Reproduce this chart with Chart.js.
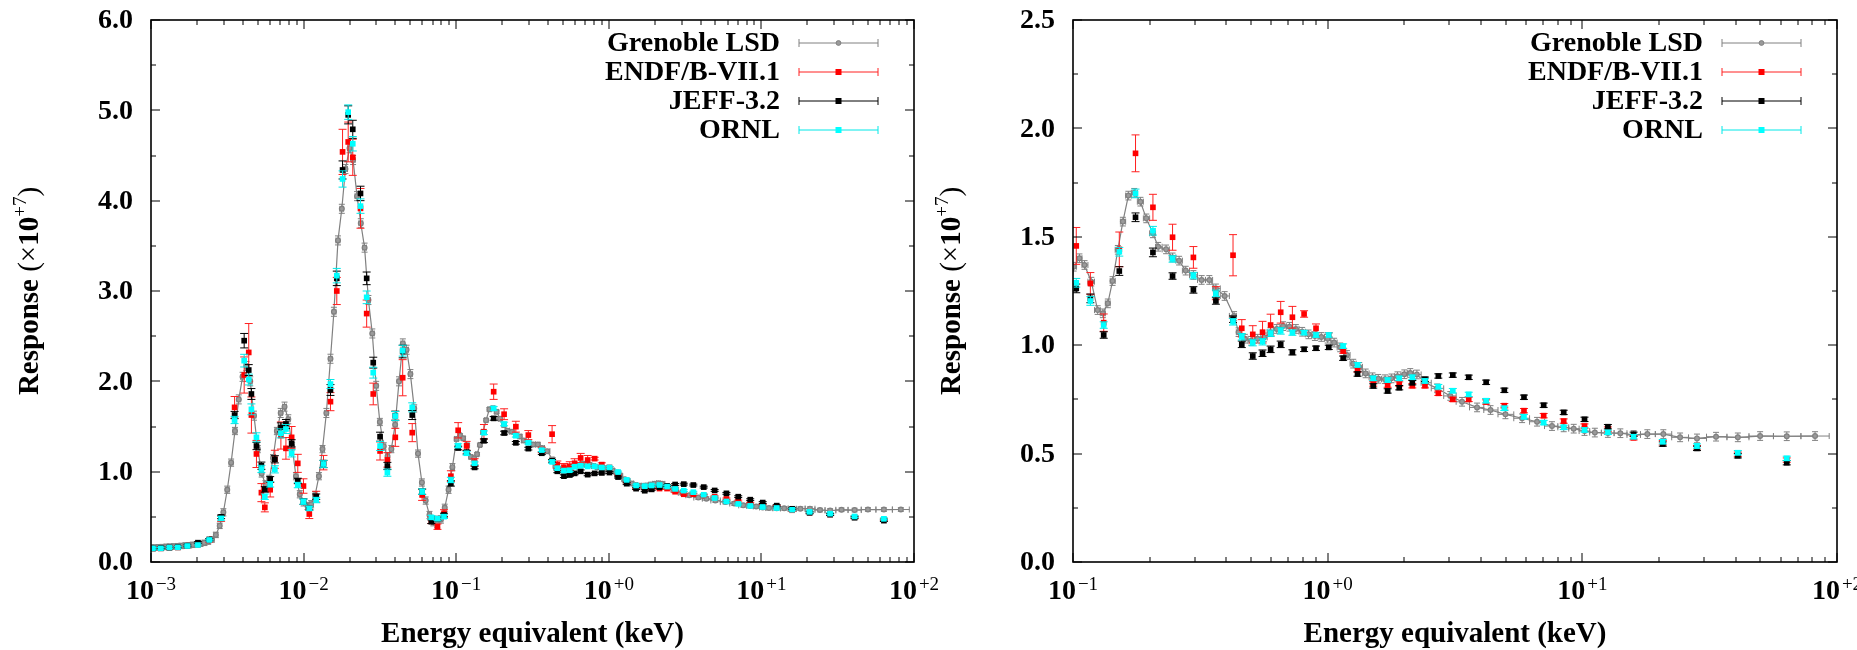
<!DOCTYPE html>
<html>
<head>
    <script src="https://cdn.jsdelivr.net/npm/chart.js@4.4.0/dist/chart.umd.min.js"></script>
    <style>
        body { margin: 0; background: #fff; width: 1857px; height: 650px; overflow: hidden; position: relative; }
        .box { position: absolute; top: 0; height: 650px; }
        #leftBox { left: 0; width: 990px; }
        #rightBox { left: 930px; width: 927px; }
    </style>
</head>
<body>
    <div class="box" id="leftBox"><canvas id="leftChart"></canvas></div>
    <div class="box" id="rightBox"><canvas id="rightChart"></canvas></div>

    <script>
        // ---- data (response in units of 1e7) ----
        var seriesNames = ['Grenoble LSD', 'ENDF/B-VII.1', 'JEFF-3.2', 'ORNL'];

        // energies (keV) of the calculated responses
        var modelEnergy = [0.00103, 0.00116, 0.00132, 0.00150, 0.00173, 0.00203, 0.00241, 0.00288, 0.00353, 0.00408,
            0.00437, 0.00455, 0.00491, 0.00529, 0.00557, 0.00604, 0.00648, 0.00710, 0.00766, 0.00835,
            0.00916, 0.00998, 0.0109, 0.0121, 0.0135, 0.0150, 0.0165, 0.0180, 0.0196, 0.0210,
            0.0236, 0.0259, 0.0286, 0.0317, 0.0354, 0.0399, 0.0446, 0.0515, 0.0598, 0.0687,
            0.0754, 0.0832, 0.0923, 0.103, 0.117, 0.132, 0.152, 0.176, 0.206, 0.246,
            0.297, 0.364, 0.425, 0.460, 0.508, 0.555, 0.597, 0.654, 0.727, 0.808,
            0.900, 1.01, 1.15, 1.31, 1.51, 1.72, 1.91, 2.15, 2.41, 2.72,
            3.10, 3.58, 4.19, 4.94, 5.90, 7.05, 8.45, 10.2, 12.6, 15.9,
            20.7, 28.2, 40.8, 63.5];

        var endfValues = [0.150, 0.150, 0.155, 0.160, 0.175, 0.190, 0.240, 0.480, 1.712, 2.070,
            2.320, 1.627, 1.196, 0.768, 0.605, 0.800, 1.137, 1.400, 1.258, 1.380,
            1.092, 0.841, 0.531, 0.723, 1.100, 1.775, 3.000, 4.540, 4.650, 4.480,
            3.915, 2.750, 1.860, 1.229, 1.130, 1.380, 2.040, 1.432, 0.742, 0.465,
            0.391, 0.539, 0.950, 1.458, 1.285, 1.104, 1.442, 1.885, 1.636, 1.498,
            1.405, 1.240, 1.415, 1.078, 1.050, 1.060, 1.093, 1.152, 1.129, 1.144,
            1.078, 1.047, 0.973, 0.886, 0.821, 0.816, 0.821, 0.813, 0.813, 0.778,
            0.750, 0.750, 0.738, 0.721, 0.698, 0.675, 0.650, 0.627, 0.613, 0.573,
            0.550, 0.527, 0.497, 0.470];
        var endfErrors = [0.01, 0.01, 0.01, 0.01, 0.01, 0.012, 0.02, 0.03, 0.12, 0.20,
            0.32, 0.20, 0.15, 0.10, 0.05, 0.08, 0.10, 0.15, 0.12, 0.12,
            0.10, 0.08, 0.05, 0.06, 0.08, 0.10, 0.15, 0.25, 0.22, 0.20,
            0.22, 0.15, 0.12, 0.10, 0.08, 0.10, 0.20, 0.10, 0.06, 0.04,
            0.03, 0.04, 0.06, 0.085, 0.05, 0.04, 0.08, 0.085, 0.06, 0.06,
            0.05, 0.03, 0.095, 0.04, 0.04, 0.05, 0.05, 0.05, 0.05, 0.015,
            0.02, 0.01, 0.01, 0.01, 0.01, 0.01, 0.01, 0.01, 0.01, 0.01,
            0.01, 0.01, 0.01, 0.01, 0.01, 0.01, 0.01, 0.01, 0.01, 0.01,
            0.01, 0.01, 0.01, 0.01];

        var jeffValues = [0.150, 0.155, 0.160, 0.165, 0.180, 0.214, 0.250, 0.500, 1.627, 2.450,
            2.125, 1.860, 1.284, 1.066, 0.804, 0.915, 1.137, 1.490, 1.528, 1.314,
            0.897, 0.668, 0.594, 0.723, 1.085, 1.904, 3.140, 4.340, 4.950, 4.790,
            4.080, 3.140, 2.207, 1.387, 1.063, 1.620, 2.330, 1.627, 0.779, 0.446,
            0.480, 0.520, 0.870, 1.262, 1.216, 1.047, 1.342, 1.590, 1.428, 1.319,
            1.255, 1.204, 1.120, 1.004, 0.950, 0.963, 0.981, 1.004, 0.967, 0.981,
            0.986, 0.990, 0.940, 0.867, 0.812, 0.789, 0.804, 0.827, 0.843, 0.858,
            0.862, 0.852, 0.829, 0.792, 0.760, 0.723, 0.690, 0.658, 0.624, 0.589,
            0.544, 0.524, 0.490, 0.458];
        var jeffErrors = [0.01, 0.01, 0.01, 0.01, 0.01, 0.01, 0.01, 0.02, 0.04, 0.08,
            0.06, 0.06, 0.04, 0.04, 0.03, 0.03, 0.04, 0.05, 0.05, 0.04,
            0.03, 0.03, 0.02, 0.03, 0.04, 0.06, 0.08, 0.10, 0.10, 0.10,
            0.08, 0.07, 0.06, 0.05, 0.04, 0.05, 0.07, 0.05, 0.03, 0.02,
            0.02, 0.02, 0.03, 0.02, 0.02, 0.015, 0.02, 0.02, 0.02, 0.015,
            0.015, 0.015, 0.015, 0.015, 0.015, 0.015, 0.015, 0.015, 0.012, 0.01,
            0.01, 0.01, 0.01, 0.01, 0.01, 0.01, 0.01, 0.01, 0.01, 0.01,
            0.01, 0.01, 0.01, 0.01, 0.01, 0.01, 0.01, 0.01, 0.01, 0.01,
            0.01, 0.01, 0.01, 0.01];

        var ornlValues = [0.151, 0.151, 0.159, 0.162, 0.177, 0.188, 0.244, 0.483, 1.572, 2.229,
            2.020, 1.690, 1.380, 1.030, 0.723, 0.860, 1.026, 1.424, 1.472, 1.203,
            0.852, 0.668, 0.594, 0.686, 1.085, 1.970, 3.170, 4.240, 4.980, 4.630,
            3.940, 2.930, 2.096, 1.284, 0.989, 1.616, 2.339, 1.712, 0.779, 0.494,
            0.480, 0.502, 0.908, 1.288, 1.204, 1.093, 1.431, 1.700, 1.528, 1.398,
            1.321, 1.239, 1.108, 1.039, 1.012, 1.016, 1.055, 1.066, 1.058, 1.058,
            1.047, 1.047, 0.996, 0.909, 0.847, 0.839, 0.847, 0.852, 0.835, 0.809,
            0.790, 0.773, 0.744, 0.709, 0.670, 0.643, 0.621, 0.609, 0.598, 0.578,
            0.555, 0.535, 0.504, 0.478];
        var ornlErrors = [0.01, 0.01, 0.01, 0.01, 0.01, 0.01, 0.01, 0.02, 0.04, 0.07,
            0.06, 0.06, 0.05, 0.04, 0.03, 0.03, 0.04, 0.05, 0.05, 0.04,
            0.03, 0.03, 0.02, 0.03, 0.04, 0.05, 0.08, 0.09, 0.08, 0.08,
            0.08, 0.07, 0.06, 0.05, 0.04, 0.05, 0.06, 0.05, 0.03, 0.02,
            0.02, 0.02, 0.03, 0.02, 0.02, 0.015, 0.02, 0.02, 0.02, 0.015,
            0.015, 0.015, 0.015, 0.015, 0.015, 0.015, 0.015, 0.015, 0.012, 0.01,
            0.01, 0.01, 0.01, 0.01, 0.01, 0.01, 0.01, 0.01, 0.01, 0.01,
            0.01, 0.01, 0.01, 0.01, 0.01, 0.01, 0.01, 0.01, 0.01, 0.01,
            0.01, 0.01, 0.01, 0.01];

        // measured Grenoble LSD response
        var lsdEnergy = [0.00100, 0.00106, 0.00112, 0.00119, 0.00126, 0.00133, 0.00141, 0.00150, 0.00158, 0.00168,
            0.00178, 0.00188, 0.00200, 0.00211, 0.00224, 0.00237, 0.00251, 0.00266, 0.00282, 0.00298,
            0.00316, 0.00335, 0.00355, 0.00376, 0.00398, 0.00422, 0.00447, 0.00473, 0.00501, 0.00531,
            0.00562, 0.00596, 0.00631, 0.00668, 0.00708, 0.00750, 0.00794, 0.00841, 0.00891, 0.00944,
            0.0100, 0.0106, 0.0112, 0.0119, 0.0126, 0.0133, 0.0141, 0.0150, 0.0158, 0.0168,
            0.0178, 0.0188, 0.0200, 0.0211, 0.0224, 0.0237, 0.0251, 0.0266, 0.0282, 0.0299,
            0.0316, 0.0335, 0.0355, 0.0376, 0.0398, 0.0422, 0.0447, 0.0473, 0.0501, 0.0531,
            0.0562, 0.0596, 0.0631, 0.0668, 0.0708, 0.0750, 0.0794, 0.0841, 0.0891, 0.0944,
            0.1006, 0.106, 0.111, 0.118, 0.125, 0.131, 0.137, 0.143, 0.150, 0.157,
            0.165, 0.174, 0.184, 0.194, 0.206, 0.216, 0.232, 0.246, 0.261, 0.277,
            0.297, 0.320, 0.343, 0.364, 0.394, 0.429, 0.447, 0.473, 0.501, 0.531,
            0.562, 0.596, 0.631, 0.668, 0.708, 0.750, 0.794, 0.841, 0.891, 0.944,
            1.00, 1.06, 1.12, 1.19, 1.26, 1.33, 1.41, 1.50, 1.58, 1.68,
            1.78, 1.88, 2.00, 2.11, 2.24, 2.42, 2.69, 3.03, 3.37, 3.86,
            4.36, 4.99, 5.80, 6.64, 7.60, 8.45, 9.25, 10.2, 11.2, 12.6,
            14.1, 15.9, 18.0, 20.8, 24.2, 28.2, 33.5, 40.8, 49.9, 63.5,
            82.0];
        var lsdValues = [0.160, 0.160, 0.163, 0.165, 0.168, 0.170, 0.172, 0.175, 0.178, 0.182,
            0.186, 0.190, 0.196, 0.202, 0.212, 0.226, 0.250, 0.300, 0.400, 0.550,
            0.800, 1.100, 1.450, 1.800, 2.050, 2.170, 2.000, 1.620, 1.250, 0.980,
            0.860, 0.920, 1.150, 1.450, 1.650, 1.720, 1.580, 1.280, 0.950, 0.750,
            0.660, 0.620, 0.640, 0.740, 0.950, 1.250, 1.650, 2.250, 2.770, 3.560,
            3.910, 4.350, 4.580, 4.450, 4.050, 3.750, 3.480, 2.900, 2.530, 1.950,
            1.550, 1.280, 1.170, 1.250, 1.520, 2.000, 2.420, 2.350, 2.080, 1.700,
            1.200, 0.880, 0.680, 0.520, 0.440, 0.420, 0.470, 0.600, 0.800, 1.050,
            1.362, 1.401, 1.370, 1.293, 1.162, 1.147, 1.193, 1.296, 1.440, 1.570,
            1.690, 1.703, 1.662, 1.585, 1.516, 1.454, 1.442, 1.405, 1.390, 1.344,
            1.324, 1.301, 1.301, 1.262, 1.227, 1.135, 1.060, 1.030, 1.020, 1.030,
            1.036, 1.060, 1.075, 1.088, 1.085, 1.075, 1.062, 1.050, 1.042, 1.038,
            1.030, 1.012, 0.990, 0.955, 0.915, 0.900, 0.870, 0.852, 0.845, 0.843,
            0.847, 0.857, 0.866, 0.872, 0.865, 0.827, 0.801, 0.766, 0.739, 0.713,
            0.701, 0.681, 0.663, 0.647, 0.627, 0.621, 0.615, 0.604, 0.597, 0.595,
            0.594, 0.586, 0.590, 0.590, 0.575, 0.570, 0.578, 0.575, 0.581, 0.580,
            0.581];
        var lsdErrors = [0.03, 0.03, 0.03, 0.03, 0.03, 0.03, 0.03, 0.03, 0.03, 0.03,
            0.03, 0.03, 0.03, 0.03, 0.03, 0.03, 0.03, 0.03, 0.03, 0.04,
            0.04, 0.04, 0.04, 0.05, 0.05, 0.05, 0.05, 0.05, 0.04, 0.04,
            0.04, 0.04, 0.04, 0.04, 0.05, 0.05, 0.05, 0.04, 0.04, 0.04,
            0.04, 0.04, 0.04, 0.04, 0.04, 0.04, 0.05, 0.05, 0.05, 0.05,
            0.05, 0.05, 0.05, 0.05, 0.05, 0.05, 0.05, 0.05, 0.05, 0.05,
            0.04, 0.04, 0.04, 0.04, 0.04, 0.05, 0.05, 0.05, 0.05, 0.04,
            0.04, 0.04, 0.04, 0.04, 0.04, 0.04, 0.04, 0.04, 0.04, 0.04,
            0.02, 0.02, 0.02, 0.02, 0.02, 0.02, 0.02, 0.02, 0.02, 0.02,
            0.02, 0.02, 0.02, 0.02, 0.02, 0.02, 0.02, 0.02, 0.02, 0.02,
            0.02, 0.02, 0.02, 0.02, 0.02, 0.02, 0.02, 0.02, 0.02, 0.02,
            0.02, 0.02, 0.02, 0.02, 0.02, 0.02, 0.02, 0.02, 0.02, 0.02,
            0.02, 0.02, 0.02, 0.02, 0.02, 0.02, 0.02, 0.02, 0.02, 0.02,
            0.02, 0.02, 0.02, 0.02, 0.02, 0.02, 0.02, 0.02, 0.02, 0.02,
            0.02, 0.02, 0.02, 0.02, 0.02, 0.02, 0.02, 0.02, 0.02, 0.02,
            0.02, 0.02, 0.02, 0.02, 0.02, 0.02, 0.02, 0.02, 0.02, 0.02,
            0.02];

        // axis ticks
        var leftDecades = [-3, -2, -1, 0, 1, 2];
        var rightDecades = [-1, 0, 1, 2];
        var leftYTicks = [0, 1, 2, 3, 4, 5, 6];
        var rightYTicks = [0, 0.5, 1.0, 1.5, 2.0, 2.5];

        var SERIF = '"Liberation Serif", "Times New Roman", serif';
        var GREY = '#808080';

        // x-bins of the LSD points: half way (in log) to the neighbours
        function lsdPoints() {
            var pts = [];
            for (var i = 0; i < lsdEnergy.length; i++) {
                var e = lsdEnergy[i];
                var prev = i > 0 ? lsdEnergy[i - 1] : e * e / lsdEnergy[i + 1];
                var next = i < lsdEnergy.length - 1 ? lsdEnergy[i + 1] : e * e / lsdEnergy[i - 1];
                pts.push({ x: e, y: lsdValues[i], err: lsdErrors[i], lo: Math.sqrt(prev * e), hi: Math.sqrt(next * e) });
            }
            return pts;
        }

        function modelPoints(values, errors) {
            return modelEnergy.map(function(e, i) {
                return { x: e, y: values[i], err: errors[i] };
            });
        }

        function makeDatasets() {
            return [
                { label: seriesNames[0], data: lsdPoints(), showLine: true, borderColor: GREY, borderWidth: 1.2,
                  pointStyle: 'circle', pointRadius: 2.4, backgroundColor: '#9a9a9a', pointBorderColor: GREY,
                  errColor: GREY, capHalf: 3, xBins: true, order: 4 },
                { label: seriesNames[1], data: modelPoints(endfValues, endfErrors), showLine: false,
                  pointStyle: 'rect', pointRadius: 4, backgroundColor: '#ff0000', borderColor: '#ff0000', borderWidth: 0,
                  errColor: '#ff2020', capHalf: 4, order: 3 },
                { label: seriesNames[2], data: modelPoints(jeffValues, jeffErrors), showLine: false,
                  pointStyle: 'rect', pointRadius: 4, backgroundColor: '#000000', borderColor: '#000000', borderWidth: 0,
                  errColor: '#000000', capHalf: 4, order: 2 },
                { label: seriesNames[3], data: modelPoints(ornlValues, ornlErrors), showLine: false,
                  pointStyle: 'rect', pointRadius: 4, backgroundColor: '#00ffff', borderColor: '#00ffff', borderWidth: 0,
                  errColor: '#00e8e8', capHalf: 4, order: 1 }
            ];
        }

        // error bars, drawn just under each dataset's markers
        var errorBars = {
            id: 'errorBars',
            beforeDatasetDraw: function(chart, args) {
                var ds = chart.data.datasets[args.index];
                var a = chart.chartArea, xs = chart.scales.x, ys = chart.scales.y, ctx = chart.ctx;
                ctx.save();
                ctx.beginPath();
                ctx.rect(a.left, a.top, a.right - a.left, a.bottom - a.top);
                ctx.clip();
                ctx.strokeStyle = ds.errColor;
                ctx.lineWidth = 1;
                ctx.beginPath();
                ds.data.forEach(function(p) {
                    var px = xs.getPixelForValue(p.x);
                    var y1 = ys.getPixelForValue(p.y - p.err), y2 = ys.getPixelForValue(p.y + p.err);
                    ctx.moveTo(px, y1); ctx.lineTo(px, y2);
                    ctx.moveTo(px - ds.capHalf, y1); ctx.lineTo(px + ds.capHalf, y1);
                    ctx.moveTo(px - ds.capHalf, y2); ctx.lineTo(px + ds.capHalf, y2);
                    if (ds.xBins) {
                        var py = ys.getPixelForValue(p.y);
                        var x1 = xs.getPixelForValue(p.lo), x2 = xs.getPixelForValue(p.hi);
                        ctx.moveTo(x1, py); ctx.lineTo(x2, py);
                        ctx.moveTo(x1, py - 3); ctx.lineTo(x1, py + 3);
                        ctx.moveTo(x2, py - 3); ctx.lineTo(x2, py + 3);
                    }
                });
                ctx.stroke();
                ctx.restore();
            }
        };

        function drawPower(ctx, cx, baseY, exp) {
            var sup = (exp < 0 ? '\u2212' : '+') + Math.abs(exp);
            ctx.font = 'bold 28px ' + SERIF;
            var w1 = ctx.measureText('10').width;
            ctx.font = '19px ' + SERIF;
            var w2 = ctx.measureText(sup).width;
            var x0 = cx - (w1 + w2 + 2) / 2;
            ctx.textAlign = 'left';
            ctx.textBaseline = 'alphabetic';
            ctx.font = 'bold 28px ' + SERIF;
            ctx.fillText('10', x0, baseY);
            ctx.font = '19px ' + SERIF;
            ctx.fillText(sup, x0 + w1 + 2, baseY - 9);
        }

        // frame with inward ticks, tick labels, axis titles and key
        var frame = {
            id: 'frame',
            afterDraw: function(chart, args, opts) {
                var ctx = chart.ctx, a = chart.chartArea, xs = chart.scales.x, ys = chart.scales.y;
                ctx.save();
                ctx.strokeStyle = '#000';
                ctx.lineWidth = 1;
                ctx.beginPath();
                opts.decades.forEach(function(d, i) {
                    var px = Math.round(xs.getPixelForValue(Math.pow(10, d)));
                    ctx.moveTo(px, a.bottom); ctx.lineTo(px, a.bottom - 9);
                    ctx.moveTo(px, a.top); ctx.lineTo(px, a.top + 9);
                    if (i < opts.decades.length - 1) {
                        for (var m = 2; m <= 9; m++) {
                            var mx = Math.round(xs.getPixelForValue(m * Math.pow(10, d)));
                            ctx.moveTo(mx, a.bottom); ctx.lineTo(mx, a.bottom - 5);
                            ctx.moveTo(mx, a.top); ctx.lineTo(mx, a.top + 5);
                        }
                    }
                });
                var step = opts.yTicks[1] - opts.yTicks[0];
                opts.yTicks.forEach(function(v, i) {
                    var py = Math.round(ys.getPixelForValue(v));
                    ctx.moveTo(a.left, py); ctx.lineTo(a.left + 9, py);
                    ctx.moveTo(a.right, py); ctx.lineTo(a.right - 9, py);
                    if (i < opts.yTicks.length - 1) {
                        var my = Math.round(ys.getPixelForValue(v + step / 2));
                        ctx.moveTo(a.left, my); ctx.lineTo(a.left + 5, my);
                        ctx.moveTo(a.right, my); ctx.lineTo(a.right - 5, my);
                    }
                });
                ctx.stroke();
                ctx.lineWidth = 1.6;
                ctx.strokeRect(a.left, a.top, a.right - a.left, a.bottom - a.top);

                // tick labels
                ctx.fillStyle = '#000';
                opts.decades.forEach(function(d) {
                    drawPower(ctx, xs.getPixelForValue(Math.pow(10, d)), a.bottom + 37, d);
                });
                ctx.font = 'bold 28px ' + SERIF;
                ctx.textAlign = 'right';
                ctx.textBaseline = 'middle';
                opts.yTicks.forEach(function(v) {
                    ctx.fillText(v.toFixed(1), a.left - 18, ys.getPixelForValue(v) + 1);
                });

                // x title
                ctx.font = 'bold 29px ' + SERIF;
                ctx.textAlign = 'center';
                ctx.textBaseline = 'alphabetic';
                ctx.fillText('Energy equivalent (keV)', (a.left + a.right) / 2, a.bottom + 80);

                // y title, rotated
                ctx.save();
                ctx.translate(a.left - 113, (a.top + a.bottom) / 2);
                ctx.rotate(-Math.PI / 2);
                var parts = [
                    { t: 'Response', f: 'bold 29px ', dy: 0 },
                    { t: ' (\u00d7', f: '29px ', dy: 0 },
                    { t: '10', f: 'bold 29px ', dy: 0 },
                    { t: '+7', f: '19px ', dy: -12 },
                    { t: ')', f: '29px ', dy: 0 }
                ];
                var total = 0;
                parts.forEach(function(p) { ctx.font = p.f + SERIF; p.w = ctx.measureText(p.t).width; total += p.w; });
                var tx = -total / 2;
                ctx.textAlign = 'left';
                parts.forEach(function(p) { ctx.font = p.f + SERIF; ctx.fillText(p.t, tx, p.dy); tx += p.w; });
                ctx.restore();

                // key
                ctx.font = 'bold 28px ' + SERIF;
                ctx.textAlign = 'right';
                ctx.textBaseline = 'middle';
                var sx1 = a.right - 115, sx2 = a.right - 36, sxm = (sx1 + sx2) / 2;
                [0, 1, 2, 3].forEach(function(row) {
                    var ds = chart.data.datasets[row];
                    var ry = a.top + 23 + row * 29;
                    ctx.fillStyle = '#000';
                    ctx.fillText(ds.label, a.right - 134, ry + 1);
                    ctx.strokeStyle = ds.errColor;
                    ctx.lineWidth = 1;
                    ctx.beginPath();
                    ctx.moveTo(sx1, ry); ctx.lineTo(sx2, ry);
                    ctx.moveTo(sx1, ry - 4); ctx.lineTo(sx1, ry + 4);
                    ctx.moveTo(sx2, ry - 4); ctx.lineTo(sx2, ry + 4);
                    ctx.stroke();
                    ctx.fillStyle = ds.backgroundColor;
                    if (ds.pointStyle === 'rect') {
                        ctx.fillRect(sxm - 3, ry - 3, 6, 6);
                    } else {
                        ctx.beginPath();
                        ctx.arc(sxm, ry, 2.4, 0, Math.PI * 2);
                        ctx.fill();
                        ctx.stroke();
                    }
                });
                ctx.restore();
            }
        };

        function createChart(id, xMin, xMax, yMax, decades, yTicks, yWidth, padRight) {
            var ctx = document.getElementById(id).getContext('2d');
            return new Chart(ctx, {
                type: 'scatter',
                data: { datasets: makeDatasets() },
                options: {
                    responsive: true,
                    maintainAspectRatio: false,
                    animation: false,
                    devicePixelRatio: 1,
                    layout: { padding: { top: 20, right: padRight, left: 0, bottom: 0 } },
                    plugins: {
                        legend: { display: false },
                        tooltip: { enabled: false },
                        frame: { decades: decades, yTicks: yTicks }
                    },
                    scales: {
                        x: {
                            type: 'logarithmic', min: xMin, max: xMax,
                            grid: { display: false }, border: { display: false },
                            ticks: { display: false },
                            afterFit: function(s) { s.height = 88; }
                        },
                        y: {
                            type: 'linear', min: 0, max: yMax,
                            grid: { display: false }, border: { display: false },
                            ticks: { display: false },
                            afterFit: function(s) { s.width = yWidth; }
                        }
                    }
                },
                plugins: [errorBars, frame]
            });
        }

        var leftChart = createChart('leftChart', 0.001, 100, 6, leftDecades, leftYTicks, 151, 76);
        var rightChart = createChart('rightChart', 0.1, 100, 2.5, rightDecades, rightYTicks, 143, 20);
    </script>
</body>
</html>
